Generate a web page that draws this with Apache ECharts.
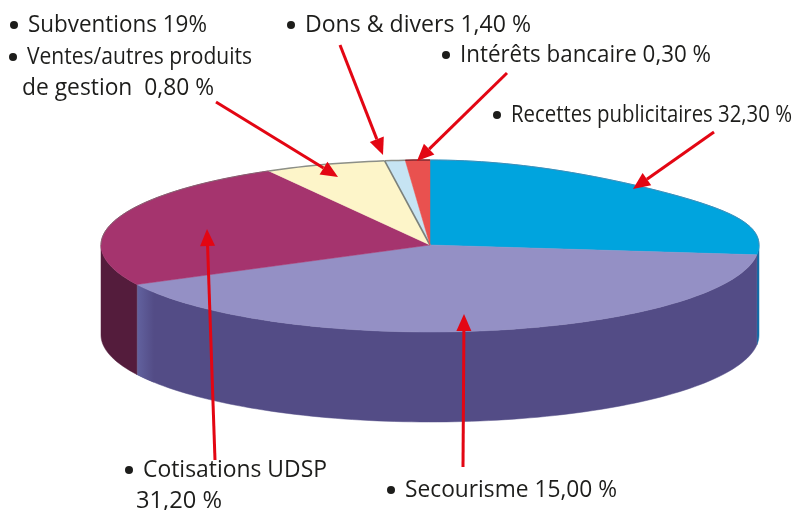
<!DOCTYPE html>
<html>
<head>
<meta charset="utf-8">
<title>Recettes</title>
<script src="https://cdn.jsdelivr.net/npm/echarts@6/dist/echarts.min.js"></script>
<style>
  html, body { margin: 0; padding: 0; background: #fff; }
  #chart { width: 794px; height: 510px; }
</style>
</head>
<body>
<div id="chart"></div>
<script>
// slices clockwise from the top, shares (not the printed figures)
const sliceNames = ['Recettes publicitaires', 'Secourisme', 'Cotisations UDSP', 'Ventes/autres produits', 'Dons & divers', 'Intérêts bancaire'];
const sliceShares = [26.8, 40.7, 24.35, 5.95, 1, 1.2];

const topColors = ['#00a4de', '#9490c5', '#a5346e', '#fdf5c9', '#c6e4f3', '#e9514f'];
const wallColors = ['#116fa9', '#534c86', '#541c3c', '#d8d0a0', '#9ab8c6', '#a03a38'];
const rimColors = ['#3d8db8', null, '#85606f', '#8c8f88', '#8c8f88', '#7d2a30'];

// text lines: [text, left, middle y, width, has bullet]
const labelLines = [
  ['Subventions 19%', 28, 25, 179, true],
  ['Ventes/autres produits', 27, 57, 225, true],
  ['de gestion  0,80 %', 22, 88, 192, false],
  ['Dons & divers 1,40 %', 305, 25, 226, true],
  ['Intérêts bancaire 0,30 %', 460, 55, 251, true],
  ['Recettes publicitaires 32,30 %', 511, 115, 281, true],
  ['Cotisations UDSP', 143, 470, 184, true],
  ['31,20 %', 136, 501, 86, false],
  ['Secourisme 15,00 %', 405, 490, 212, true]
];

// arrows: tail x, tail y, tip x, tip y
const arrows = [
  [216, 102, 338, 177],
  [340, 45, 383, 155],
  [507, 73, 417, 161],
  [714, 132, 633, 189],
  [215, 460, 207, 229],
  [463, 467, 464, 314]
];

const cx = 430, cy = 245, rx = 329, ryBack = 85, ryFront = 87, depth = 90;
const fontName = '"Open Sans"';
const total = sliceShares.reduce((a, b) => a + b, 0);

// start angle of each slice, degrees clockwise from the top
const starts = [];
let run = 0;
sliceShares.forEach((v) => { starts.push(run / total * 360); run += v; });

function rimPoint(deg, dy) {
  const r = deg * Math.PI / 180;
  const c = Math.cos(r);
  let y = cy - (c > 0 ? ryBack : ryFront) * c;
  // the printed disc is a little flattened on its back right quarter
  if (deg > 0 && deg < 90) y += 7 * Math.pow(Math.sin(2 * r), 2);
  return [cx + rx * Math.sin(r), y + (dy || 0)];
}
function arc(a0, a1, dy) {
  const pts = [];
  const n = Math.max(2, Math.ceil((a1 - a0) / 1.5));
  for (let i = 0; i <= n; i++) pts.push(rimPoint(a0 + (a1 - a0) * i / n, dy));
  return pts;
}

function renderWall(params, api) {
  const i = params.dataIndex;
  const a0 = Math.max(starts[i], 90);
  const a1 = Math.min(starts[i] + api.value(0) / total * 360, 270);
  if (a1 <= a0) return { type: 'group', children: [] };
  const points = arc(a0, a1, 0).concat(arc(a0, a1, depth).reverse());
  const children = [{
    type: 'polygon',
    shape: { points: points },
    style: { fill: wallColors[i], stroke: wallColors[i], lineWidth: 0.5 }
  }];
  // lighter band where the purple wall meets the maroon one
  if (i === 1) {
    const p0 = rimPoint(a1), p1 = rimPoint(a1, depth);
    children.push({
      type: 'polygon',
      shape: { points: arc(a1 - 6, a1, 0).concat(arc(a1 - 6, a1, depth).reverse()) },
      style: {
        fill: new echarts.graphic.LinearGradient(0, 0, 1, 0, [
          { offset: 0, color: '#62629f' },
          { offset: 1, color: wallColors[1] }
        ])
      }
    });
    children.push({
      type: 'line',
      shape: { x1: p0[0], y1: p0[1], x2: p1[0], y2: p1[1] },
      style: { stroke: '#8a88a8', lineWidth: 1 }
    });
  }
  return { type: 'group', children: children };
}

function renderTop(params, api) {
  const i = params.dataIndex;
  const a0 = starts[i];
  const a1 = a0 + api.value(0) / total * 360;
  const children = [{
    type: 'polygon',
    shape: { points: [[cx, cy]].concat(arc(a0, a1, 0)) },
    style: { fill: topColors[i], stroke: topColors[i], lineWidth: 0.5 }
  }];
  // thin rim along the back of the disc
  if (rimColors[i]) {
    const from = i === 0 ? a0 : Math.max(a0, 270);
    const to = i === 0 ? 90 : a1;
    children.push({
      type: 'polyline',
      shape: { points: arc(from, to, 0) },
      style: { fill: 'none', stroke: rimColors[i], lineWidth: i >= 3 ? 1.5 : 1 }
    });
  }
  // dark line before Dons
  if (i === 4) {
    children.push({
      type: 'line',
      shape: { x1: cx, y1: cy, x2: rimPoint(a0)[0], y2: rimPoint(a0)[1] },
      style: { stroke: '#7c817b', lineWidth: 1.6 }
    });
  }
  return { type: 'group', children: children };
}

// fit each line to the width it has in the reference
const measure = document.createElement('canvas').getContext('2d');
measure.font = '23px ' + fontName;

const graphics = [];
labelLines.forEach((l) => {
  graphics.push({
    type: 'text',
    x: l[1],
    y: l[2],
    scaleX: l[3] / measure.measureText(l[0]).width,
    style: { text: l[0], fill: '#1d1d1b', font: '23px ' + fontName, textVerticalAlign: 'middle', textAlign: 'left' },
    z: 20
  });
  if (l[4]) {
    graphics.push({
      type: 'circle',
      shape: { cx: l[1] - 14, cy: l[2], r: 4 },
      style: { fill: '#1d1d1b' },
      z: 20
    });
  }
});
arrows.forEach((a) => {
  const ang = Math.atan2(a[3] - a[1], a[2] - a[0]);
  const bx = a[2] - 17 * Math.cos(ang), by = a[3] - 17 * Math.sin(ang);
  const nx = -Math.sin(ang) * 7.5, ny = Math.cos(ang) * 7.5;
  graphics.push({
    type: 'line',
    shape: { x1: a[0], y1: a[1], x2: bx, y2: by },
    style: { stroke: '#e30613', lineWidth: 3 },
    z: 30
  });
  graphics.push({
    type: 'polygon',
    shape: { points: [[a[2], a[3]], [bx + nx, by + ny], [bx - nx, by - ny]] },
    style: { fill: '#e30613' },
    z: 30
  });
});

const chart = echarts.init(document.getElementById('chart'), null, { renderer: 'canvas' });
const sliceData = sliceShares.map((v, i) => ({ name: sliceNames[i], value: [v] }));
chart.setOption({
  animation: false,
  backgroundColor: '#fff',
  graphic: graphics,
  series: [
    { type: 'custom', coordinateSystem: 'none', renderItem: renderWall, data: sliceData, z: 2, silent: true },
    { type: 'custom', coordinateSystem: 'none', renderItem: renderTop, data: sliceData, z: 3, silent: true }
  ]
});
</script>
</body>
</html>
